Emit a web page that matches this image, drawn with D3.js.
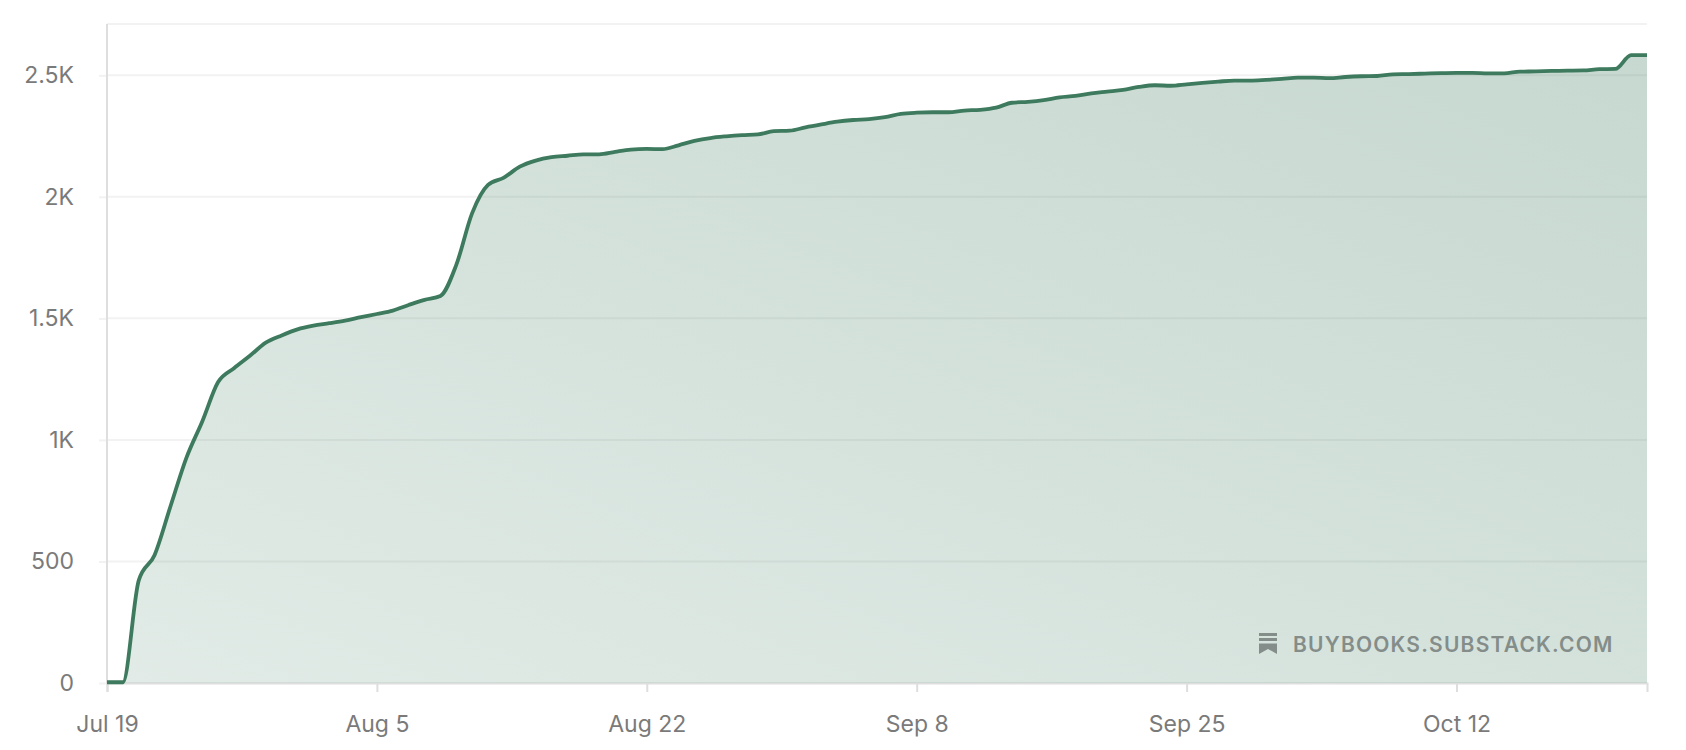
<!DOCTYPE html>
<html>
<head>
<meta charset="utf-8">
<script src="https://cdn.jsdelivr.net/npm/d3@7"></script>
<style>
  body { margin: 0; background: #fff; }
  text { font-family: Inter, "Liberation Sans", sans-serif; }
</style>
</head>
<body>
<div id="chart"></div>
<script>
const START_DATE = new Date(2021, 6, 19);
const SUBSCRIBERS = [
  3, 3, 422, 527, 727, 926, 1076, 1238, 1295, 1346,
  1400, 1430, 1455, 1470, 1480, 1491, 1505, 1518, 1532, 1555,
  1576, 1592, 1720, 1933, 2049, 2079, 2124, 2149, 2163, 2169,
  2175, 2175, 2185, 2194, 2197, 2196, 2212, 2230, 2242, 2249,
  2254, 2257, 2270, 2272, 2286, 2298, 2309, 2316, 2320, 2328,
  2341, 2346, 2348, 2348, 2355, 2358, 2367, 2387, 2391, 2398,
  2409, 2415, 2426, 2433, 2440, 2452, 2459, 2457, 2463, 2469,
  2474, 2478, 2478, 2481, 2485, 2490, 2490, 2488, 2493, 2496,
  2497, 2504, 2505, 2507, 2509, 2510, 2510, 2508, 2508, 2515,
  2516, 2518, 2519, 2520, 2525, 2526, 2583, 2583,
];
const Y_TICKS = [0, 500, 1000, 1500, 2000, 2500];
const Y_TICK_LABELS = ["0", "500", "1K", "1.5K", "2K", "2.5K"];
const X_TICK_OFFSETS = [0, 17, 34, 51, 68, 85];
const WATERMARK = "BUYBOOKS.SUBSTACK.COM";
const Y_MAX = 2711;

const width = 1686;
const height = 750;
const margin = { top: 24, right: 39, bottom: 67, left: 107 };

const LINE_COLOR = "#3d7a5e";
const AXIS_COLOR = "#dedede";
const GRID_COLOR = "#f2f2f2";
const TEXT_COLOR = "#7a7a7a";

const data = SUBSCRIBERS.map((value, i) => ({
  date: d3.timeDay.offset(START_DATE, i),
  value,
}));

const x = d3
  .scaleTime()
  .domain(d3.extent(data, (d) => d.date))
  .range([margin.left, width - margin.right]);
const y = d3
  .scaleLinear()
  .domain([0, Y_MAX])
  .range([height - margin.bottom, margin.top]);

const svg = d3.select("#chart").append("svg").attr("width", width).attr("height", height).style("display", "block");

// diagonal of the area's own bounding box, so bottom right stays mid-tone
const gradient = svg
  .append("defs")
  .append("linearGradient")
  .attr("id", "area-fill")
  .attr("x1", 0)
  .attr("y1", 1)
  .attr("x2", 1)
  .attr("y2", 0);
gradient.append("stop").attr("offset", "0%").attr("stop-color", LINE_COLOR).attr("stop-opacity", 0.15);
gradient.append("stop").attr("offset", "100%").attr("stop-color", LINE_COLOR).attr("stop-opacity", 0.29);

// horizontal grid, including the top border of the plot
const yAxis = d3
  .axisLeft(y)
  .tickValues(Y_TICKS)
  .tickFormat((d, i) => Y_TICK_LABELS[i])
  .tickSize(8)
  .tickPadding(25);
const yGroup = svg.append("g").attr("transform", `translate(${margin.left},0)`).call(yAxis);
yGroup.select(".domain").remove();
yGroup.selectAll(".tick line").attr("stroke", GRID_COLOR).attr("stroke-width", 2);
yGroup.selectAll(".tick text").attr("fill", TEXT_COLOR).attr("font-size", 23);

svg
  .append("g")
  .selectAll("line")
  .data(Y_TICKS.filter((d) => d > 0).concat(Y_MAX))
  .join("line")
  .attr("x1", margin.left)
  .attr("x2", width - margin.right)
  .attr("y1", (d) => y(d))
  .attr("y2", (d) => y(d))
  .attr("stroke", GRID_COLOR)
  .attr("stroke-width", 2);

const xAxis = d3
  .axisBottom(x)
  .tickValues(X_TICK_OFFSETS.map((d) => d3.timeDay.offset(START_DATE, d)))
  .tickFormat(d3.timeFormat("%b %-d"))
  .tickSize(9)
  .tickPadding(24);
const xGroup = svg.append("g").attr("transform", `translate(0,${y(0)})`).call(xAxis);
xGroup.select(".domain").attr("stroke", AXIS_COLOR).attr("stroke-width", 2);
xGroup.selectAll(".tick line").attr("stroke", AXIS_COLOR).attr("stroke-width", 2);
xGroup.selectAll(".tick text").attr("fill", TEXT_COLOR).attr("font-size", 23);

svg
  .append("line")
  .attr("x1", margin.left)
  .attr("x2", margin.left)
  .attr("y1", y(Y_MAX))
  .attr("y2", y(0))
  .attr("stroke", AXIS_COLOR)
  .attr("stroke-width", 2);

const area = d3
  .area()
  .x((d) => x(d.date))
  .y0(y(0))
  .y1((d) => y(d.value))
  .curve(d3.curveMonotoneX);
svg.append("path").datum(data).attr("d", area).attr("fill", "url(#area-fill)");

const line = d3
  .line()
  .x((d) => x(d.date))
  .y((d) => y(d.value))
  .curve(d3.curveMonotoneX);
svg
  .append("path")
  .datum(data)
  .attr("d", line)
  .attr("fill", "none")
  .attr("stroke", LINE_COLOR)
  .attr("stroke-width", 3.8)
  .attr("stroke-linejoin", "round");

// publication watermark, bottom right
const mark = svg.append("g").attr("fill", "#848d89");
mark.append("rect").attr("x", 1259).attr("y", 633).attr("width", 18).attr("height", 3);
mark.append("rect").attr("x", 1259).attr("y", 638).attr("width", 18).attr("height", 3);
mark.append("path").attr("d", "M1259 643.5H1277V654L1268 649L1259 654Z");
mark
  .append("text")
  .attr("x", 1293)
  .attr("y", 652)
  .attr("font-size", 21)
  .attr("font-weight", 600)
  .attr("letter-spacing", 1.2)
  .text(WATERMARK);
</script>
</body>
</html>
